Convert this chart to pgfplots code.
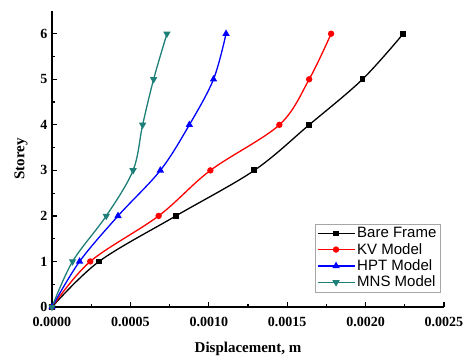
\documentclass[border=0pt]{standalone}
\usepackage{fontspec}
\setmainfont{Liberation Serif}
\setsansfont{Liberation Sans}
\usepackage{pgfplots}
\pgfplotsset{compat=1.18}
\definecolor{mnsteal}{RGB}{30,128,120}
\begin{document}
\begin{tikzpicture}
\begin{axis}[
  name=ax,
  scale only axis,
  width=392pt, height=296pt,
  xmin=0, xmax=0.0025, ymin=0, ymax=6.5,
  axis lines=left,
  axis line style={-, line width=1.6pt},
  tick align=inside,
  major tick length=5pt, minor tick length=3pt,
  every tick/.style={line width=1.2pt, black},
  xtick={0,0.0005,0.001,0.0015,0.002,0.0025},
  ytick={0,1,2,3,4,5,6},
  minor x tick num=1, minor y tick num=1,
  scaled x ticks=false,
  xticklabel style={/pgf/number format/fixed, /pgf/number format/fixed zerofill, /pgf/number format/precision=4, /pgf/number format/assume math mode=true, yshift=-7pt},
  yticklabel style={/pgf/number format/assume math mode=true, xshift=-1pt},
  ticklabel style={font=\fontsize{14}{16}\selectfont\bfseries},
  xlabel={Displacement, m},
  ylabel={Storey},
  label style={font=\fontsize{15}{17}\selectfont\bfseries},
  xlabel style={yshift=-8pt},
  ylabel style={yshift=6pt},
  legend style={at={(0.99,0.05)}, anchor=south east, font=\sffamily\fontsize{15}{16}\selectfont, draw=gray!70, inner sep=1.5pt, row sep=0pt},
  legend cell align=left,
  legend image code/.code={\draw[mark repeat=2, mark phase=2] plot coordinates {(0cm,0cm) (0.65cm,0cm) (1.3cm,0cm)};},
  every axis plot/.append style={line width=1.3pt, smooth, tension=0.55},
]
\addplot[black, mark=square*, mark size=2.3pt] coordinates {(0,0) (0.00030,1) (0.00079,2) (0.00129,3) (0.00164,4) (0.00198,5) (0.00224,6)};
\addlegendentry{Bare Frame}
\addplot[red, mark=*, mark size=2.5pt] coordinates {(0,0) (0.000244,1) (0.00068,2) (0.00101,3) (0.00145,4) (0.00164,5) (0.00178,6)};
\addlegendentry{KV Model}
\addplot[blue, mark=triangle*, mark size=3pt] coordinates {(0,0) (0.000176,1) (0.000421,2) (0.000691,3) (0.000876,4) (0.00103,5) (0.00111,6)};
\addlegendentry{HPT Model}
\addplot[mnsteal, mark=triangle*, mark options={rotate=180}, mark size=3pt] coordinates {(0,0) (0.000131,1) (0.000346,2) (0.000517,3) (0.000578,4) (0.000648,5) (0.000733,6)};
\addlegendentry{MNS Model}
\end{axis}
\path ([yshift=11pt,xshift=-52pt]ax.north west) ([xshift=25pt]ax.south east);
\end{tikzpicture}
\end{document}
